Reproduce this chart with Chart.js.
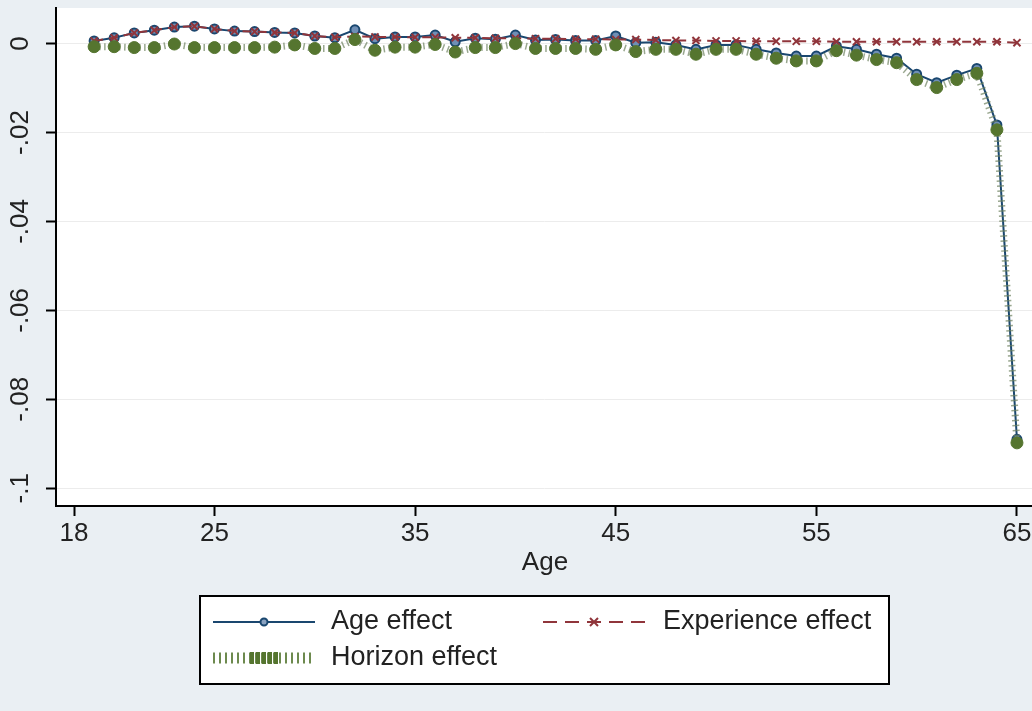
<!DOCTYPE html>
<html><head><meta charset="utf-8">
<script src="https://cdn.jsdelivr.net/npm/chart.js@4.4.1/dist/chart.umd.min.js"></script>
<style>html,body{margin:0;padding:0;background:#eaeff3;} canvas{display:block}</style>
</head><body>
<canvas id="c" width="1032" height="711"></canvas>
<script>
const ages = [19,20,21,22,23,24,25,26,27,28,29,30,31,32,33,34,35,36,37,38,39,40,41,42,43,44,45,46,47,48,49,50,51,52,53,54,55,56,57,58,59,60,61,62,63,64,65];
const ageEffect = [0.0006,0.0013,0.0024,0.0030,0.0037,0.0039,0.0033,0.0028,0.0027,0.0025,0.0024,0.0017,0.0013,0.0031,0.0011,0.0015,0.0015,0.0019,0.0004,0.0012,0.0010,0.0019,0.0008,0.0009,0.0007,0.0007,0.0017,0.0002,0.0003,-0.0003,-0.0013,-0.0003,-0.0003,-0.0013,-0.0021,-0.0028,-0.0028,-0.0006,-0.0013,-0.0024,-0.0033,-0.0069,-0.0088,-0.0071,-0.0056,-0.0183,-0.0890];
const experienceEffect = [0.0006,0.0013,0.0024,0.0030,0.0037,0.0039,0.0033,0.0028,0.0027,0.0025,0.0024,0.0017,0.0014,0.0016,0.0015,0.0015,0.0014,0.0014,0.0013,0.0013,0.0012,0.0012,0.0011,0.0011,0.0010,0.0010,0.0009,0.0009,0.0008,0.0007,0.0007,0.0006,0.0006,0.0005,0.0005,0.0005,0.0005,0.0004,0.0004,0.0004,0.0004,0.0004,0.0004,0.0004,0.0004,0.0004,0.0002];
const horizonEffect = [-0.0007,-0.0007,-0.0009,-0.0009,-0.0001,-0.0009,-0.0009,-0.0009,-0.0009,-0.0008,-0.0003,-0.0011,-0.0011,0.0009,-0.0015,-0.0008,-0.0008,-0.0002,-0.0019,-0.0009,-0.0009,0.0000,-0.0011,-0.0011,-0.0011,-0.0013,-0.0003,-0.0018,-0.0013,-0.0013,-0.0024,-0.0013,-0.0013,-0.0024,-0.0033,-0.0039,-0.0039,-0.0016,-0.0026,-0.0036,-0.0043,-0.0081,-0.0099,-0.0081,-0.0067,-0.0194,-0.0898];
const xTicks = [18,25,35,45,55,65];
const yTicks = [0,-0.02,-0.04,-0.06,-0.08,-0.1];
const yTickLabels = ['0','-.02','-.04','-.06','-.08','-.1'];
const seriesNames = ['Age effect','Experience effect','Horizon effect'];
const xTitle = 'Age';

const navy = '#1a476f', maroon = '#90353b', green = '#55752f';
const FONT = "'Liberation Sans', Arial, sans-serif";
Chart.defaults.font.family = FONT;

const toPts = arr => ages.map((a, i) => ({x: a, y: arr[i]}));

const bgPlugin = {
  id: 'bg',
  beforeDraw(chart) {
    const {ctx, chartArea: a} = chart;
    ctx.save();
    ctx.fillStyle = '#eaeff3';
    ctx.fillRect(0, 0, chart.width, chart.height);
    ctx.fillStyle = '#ffffff';
    ctx.fillRect(a.left, a.top, a.right - a.left, a.bottom - a.top);
    ctx.restore();
  }
};

const textPlugin = {
  id: 'texts',
  afterDraw(chart) {
    const {ctx} = chart;
    const ys = chart.scales.y;
    ctx.save();
    ctx.fillStyle = '#222';
    ctx.font = '26px ' + FONT;
    ctx.textAlign = 'center';
    ctx.textBaseline = 'middle';
    yTicks.forEach((v, i) => {
      const py = ys.getPixelForValue(v);
      ctx.save();
      ctx.translate(21, py);
      ctx.rotate(-Math.PI / 2);
      ctx.fillText(yTickLabels[i], 0, 0);
      ctx.restore();
    });
    // x title
    ctx.font = '26px ' + FONT;
    ctx.fillText(xTitle, 545, 563);

    // legend
    ctx.fillStyle = '#ffffff';
    ctx.fillRect(200, 596, 689, 88);
    ctx.strokeStyle = '#000';
    ctx.lineWidth = 2;
    ctx.strokeRect(200, 596, 689, 88);

    const r1 = 622, r2 = 658;
    // Age effect
    ctx.strokeStyle = navy; ctx.lineWidth = 2;
    ctx.beginPath(); ctx.moveTo(213, r1); ctx.lineTo(315, r1); ctx.stroke();
    ctx.fillStyle = '#8aa2c0';
    ctx.beginPath(); ctx.arc(264, r1, 3.5, 0, Math.PI * 2); ctx.fill(); ctx.stroke();
    // Experience effect
    ctx.strokeStyle = maroon; ctx.lineWidth = 2;
    ctx.setLineDash([14, 8]);
    ctx.beginPath(); ctx.moveTo(543, r1); ctx.lineTo(645, r1); ctx.stroke();
    ctx.setLineDash([]);
    ctx.beginPath();
    ctx.moveTo(590, r1 - 4); ctx.lineTo(598, r1 + 4);
    ctx.moveTo(598, r1 - 4); ctx.lineTo(590, r1 + 4);
    ctx.stroke();
    // Horizon effect
    ctx.strokeStyle = '#6d8a4e'; ctx.lineWidth = 11;
    ctx.setLineDash([2, 4]);
    ctx.beginPath(); ctx.moveTo(213, r2); ctx.lineTo(315, r2); ctx.stroke();
    ctx.strokeStyle = green; ctx.lineWidth = 12;
    ctx.setLineDash([4, 2]);
    ctx.beginPath(); ctx.moveTo(250, r2); ctx.lineTo(278, r2); ctx.stroke();
    ctx.setLineDash([]);

    ctx.fillStyle = '#222';
    ctx.font = '27px ' + FONT;
    ctx.textAlign = 'left';
    ctx.fillText(seriesNames[0], 331, r1);
    ctx.fillText(seriesNames[1], 663, r1);
    ctx.fillText(seriesNames[2], 331, r2);
    ctx.restore();
  }
};

new Chart(document.getElementById('c'), {
  type: 'line',
  data: {
    datasets: [
      {label: seriesNames[0], data: toPts(ageEffect), borderColor: navy, borderWidth: 2,
       pointStyle: 'circle', pointRadius: 4.5, pointBorderWidth: 2, pointBorderColor: navy,
       pointBackgroundColor: '#6f8fb5', tension: 0, order: 3},
      {label: seriesNames[1], data: toPts(experienceEffect), borderColor: maroon, borderWidth: 2,
       borderDash: [9, 6], pointStyle: 'crossRot', pointRadius: 5, pointBorderWidth: 2,
       pointBorderColor: maroon, pointBackgroundColor: maroon, tension: 0, order: 2},
      {label: seriesNames[2], data: toPts(horizonEffect), borderColor: 'rgba(110,130,95,0.7)', borderWidth: 7,
       borderDash: [1.5, 3.5], pointStyle: 'circle', pointRadius: 6, pointBorderWidth: 1,
       pointBorderColor: green, pointBackgroundColor: green, tension: 0, order: 1}
    ]
  },
  options: {
    responsive: false, animation: false, devicePixelRatio: 1,
    layout: {autoPadding: false, padding: {top: 8, left: 0, right: 0, bottom: 0}},
    plugins: {legend: {display: false}, tooltip: {enabled: false}},
    scales: {
      x: {
        type: 'linear', min: 17.1, max: 65.75,
        afterBuildTicks: s => { s.ticks = xTicks.map(v => ({value: v})); },
        afterFit: s => { s.height = 205; s.paddingLeft = 0; s.paddingRight = 0; },
        grid: {drawOnChartArea: false, drawTicks: true, tickLength: 10, tickColor: '#000', tickWidth: 2},
        border: {display: true, color: '#000', width: 2},
        ticks: {font: {size: 26}, color: '#222', padding: 2, maxRotation: 0, autoSkip: false,
                callback: v => String(v)}
      },
      y: {
        min: -0.104, max: 0.008,
        afterBuildTicks: s => { s.ticks = yTicks.map(v => ({value: v})); },
        afterFit: s => { s.width = 56; s.paddingTop = 0; s.paddingBottom = 0; },
        grid: {color: '#ececec', lineWidth: 1, drawTicks: true, tickLength: 10, tickColor: '#000', tickWidth: 2},
        border: {display: true, color: '#000', width: 2},
        ticks: {display: false}
      }
    }
  },
  plugins: [bgPlugin, textPlugin]
});
</script>
</body></html>
